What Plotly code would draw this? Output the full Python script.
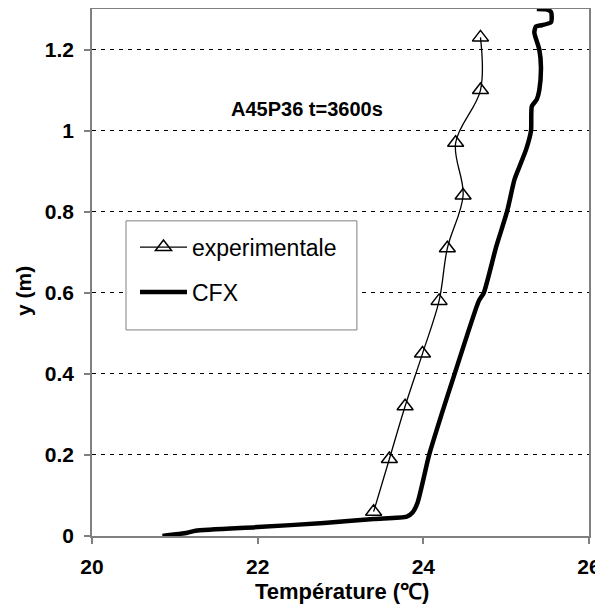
import plotly.graph_objects as go

# Experimental data
exp_T = [23.40, 23.59, 23.78, 23.99, 24.19, 24.29, 24.48, 24.39, 24.69, 24.69]
exp_y = [0.06, 0.19, 0.32, 0.45, 0.58, 0.71, 0.84, 0.97, 1.10, 1.23]

# CFX simulation profile
cfx_T = [20.85, 21.15, 21.25, 22.0, 22.8, 23.4, 23.8, 23.87, 23.93, 24.07, 24.22, 24.37,
         24.52, 24.67, 24.73, 24.88, 25.01, 25.10, 25.16, 25.24, 25.30, 25.31, 25.37,
         25.40, 25.42, 25.40, 25.34, 25.36, 25.43, 25.54, 25.55, 25.54, 25.48, 25.37]
cfx_y = [0.0, 0.008, 0.013, 0.022, 0.032, 0.042, 0.048, 0.058, 0.082, 0.2, 0.3, 0.395,
         0.49, 0.58, 0.60, 0.714, 0.80, 0.879, 0.911, 0.953, 1.0, 1.06, 1.077,
         1.10, 1.156, 1.20, 1.242, 1.257, 1.26, 1.267, 1.281, 1.293, 1.299, 1.30]

x_ticks = [20, 22, 24, 26]
y_ticks = [0, 0.2, 0.4, 0.6, 0.8, 1.0, 1.2]

FONT = "Liberation Sans, Arial, sans-serif"

fig = go.Figure()
fig.add_trace(go.Scatter(
    x=exp_T, y=exp_y, mode="lines+markers", name="experimentale",
    line=dict(color="black", width=1.3, shape="spline"),
    marker=dict(symbol="triangle-up-open", size=14, color="black", line=dict(width=1.5)),
    legendgroup="a",
))
fig.add_trace(go.Scatter(
    x=cfx_T, y=cfx_y, mode="lines", name="CFX",
    line=dict(color="black", width=4.5, shape="spline", smoothing=0.6),
    legendgroup="b",
))

fig.add_annotation(
    x=22.59, y=1.054, xref="x", yref="y", text="<b>A45P36 t=3600s</b>",
    showarrow=False, font=dict(family=FONT, size=20, color="black"),
)
# axis titles
fig.add_annotation(
    x=0.503, y=-0.1044, xref="paper", yref="paper", text="<b>Température (℃)</b>",
    xanchor="center", yanchor="middle",
    showarrow=False, font=dict(family=FONT, size=22, color="black"),
)
fig.add_annotation(
    x=-0.1368, y=0.465, xref="paper", yref="paper", text="<b>y (m)</b>", textangle=-90,
    xanchor="center", yanchor="middle",
    showarrow=False, font=dict(family=FONT, size=21, color="black"),
)

# legend frame
fig.add_shape(
    type="rect", xref="paper", yref="paper", x0=0.0684, x1=0.533, y0=0.391, y1=0.598,
    line=dict(color="#808080", width=1), fillcolor="white", layer="above",
)

axis_common = dict(
    showline=True, linecolor="#808080", linewidth=1.5, mirror=True,
    ticks="outside", ticklen=6, tickcolor="#808080", tickwidth=1.5,
    tickfont=dict(family=FONT, size=21, color="black", weight="bold"),
    zeroline=False, automargin=False,
)

fig.update_xaxes(range=[20, 26], tickvals=x_ticks, showgrid=False,
                 ticklabelstandoff=5, **axis_common)
fig.update_yaxes(
    range=[0, 1.3], tickvals=y_ticks, showgrid=True, gridcolor="black", gridwidth=1.2,
    griddash="4px,5px", ticklabelstandoff=6, **axis_common,
)

# page body has an 8px margin: shrink the figure so the plot lands where the reference has it
fig.update_layout(
    width=595, height=598,
    margin=dict(l=84, r=14, t=1, b=70),
    paper_bgcolor="white", plot_bgcolor="white",
    showlegend=True,
    legend=dict(
        x=0.0865, y=0.589, xanchor="left", yanchor="top",
        bgcolor="rgba(0,0,0,0)", borderwidth=0,
        font=dict(family=FONT, size=23, color="black"),
        itemwidth=47, tracegroupgap=12, traceorder="grouped",
    ),
)

fig.write_html("out.html")
